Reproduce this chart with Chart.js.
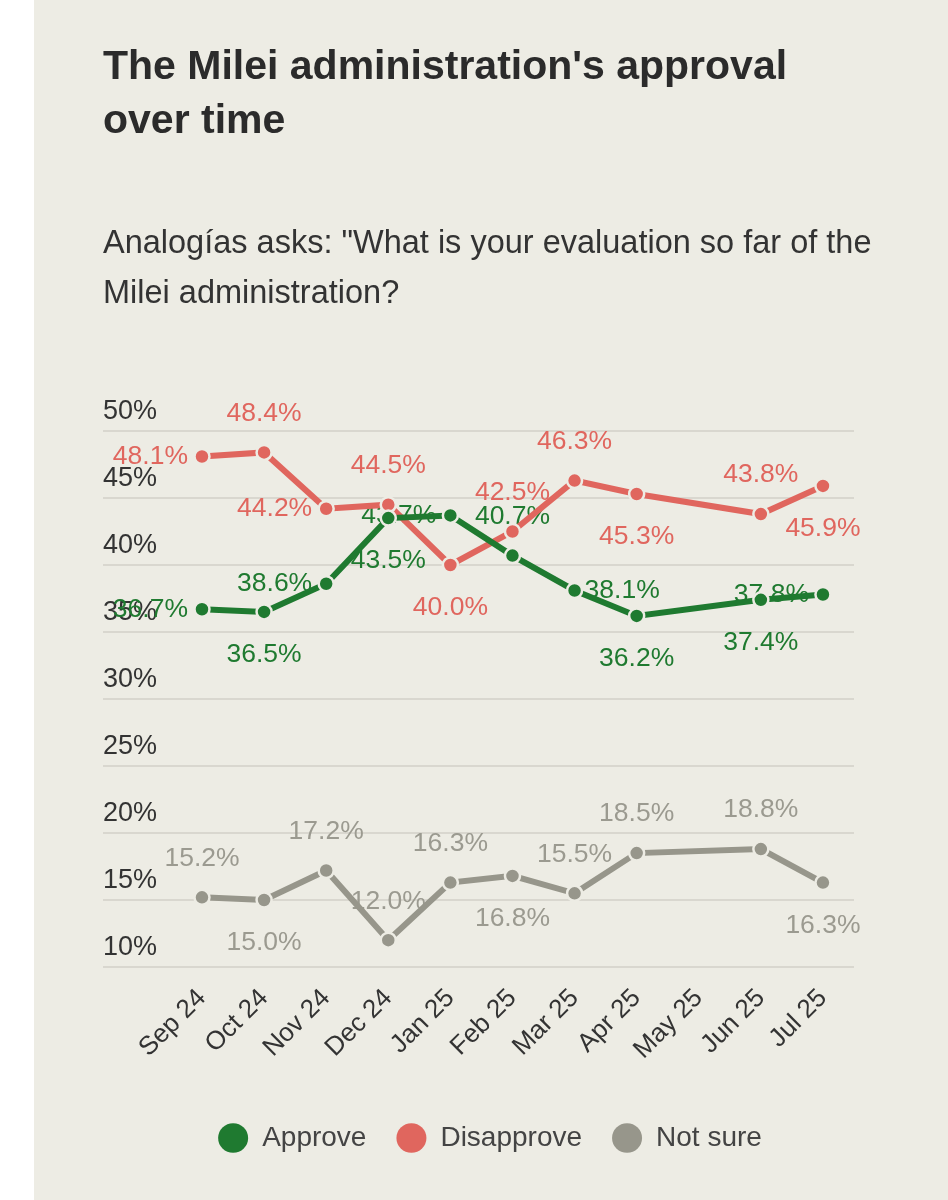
<!DOCTYPE html>
<html>
<head>
<meta charset="utf-8">
<script src="https://cdn.jsdelivr.net/npm/chart.js@4.4.1/dist/chart.umd.min.js"></script>
<style>
html,body{margin:0;padding:0;background:#ffffff;}
#wrap{position:absolute;left:34px;top:0;width:914px;height:1200px;background:#edece4;}
canvas{display:block;}
</style>
</head>
<body>
<div id="wrap"><canvas id="c" width="914" height="1200" style="width:914px;height:1200px"></canvas></div>
<script>
// ---- data ----
const months = ['Sep 24','Oct 24','Nov 24','Dec 24','Jan 25','Feb 25','Mar 25','Apr 25','May 25','Jun 25','Jul 25'];
const approve    = [36.7, 36.5, 38.6, 43.5, 43.7, 40.7, 38.1, 36.2, null, 37.4, 37.8];
const disapprove = [48.1, 48.4, 44.2, 44.5, 40.0, 42.5, 46.3, 45.3, null, 43.8, 45.9];
const notSure    = [15.2, 15.0, 17.2, 12.0, 16.3, 16.8, 15.5, 18.5, null, 18.8, 16.3];
const yTickValues = [10, 15, 20, 25, 30, 35, 40, 45, 50];
const seriesNames = ['Approve', 'Disapprove', 'Not sure'];

// ---- styles ----
const BG = '#edece4';
const GREEN = '#1f7a30';
const RED = '#e0665e';
const GREY = '#97968b';
const FONT = "'Liberation Sans', Arial, sans-serif";
const FONT_NARROW = "'Liberation Sans Narrow', 'Liberation Sans', Arial, sans-serif";
// label placement per point (style, not data)
const approvePos    = ['left','below','left','below','left','above','right','below',null,'below','left'];
const disapprovePos = ['left','above','left','above','below','above','above','below',null,'above','below'];
const notSurePos    = ['above','below','above','above','above','below','above','above',null,'above','below'];

const toPoints = arr => arr.map((v, i) => ({x: i, y: v}));

const pointLabels = {
  id: 'pointLabels',
  beforeDatasetsDraw(chart) {
    const ctx = chart.ctx;
    ctx.save();
    ctx.font = '26.5px ' + FONT;
    chart.data.datasets.forEach((ds, di) => {
      const meta = chart.getDatasetMeta(di);
      meta.data.forEach((pt, i) => {
        const v = ds.data[i].y;
        const p = ds.labelPos[i];
        if (v === null || v === undefined || !p) return;
        const txt = v.toFixed(1) + '%';
        let x = pt.x, y = pt.y;
        ctx.textBaseline = 'middle';
        if (p === 'above') { ctx.textAlign = 'center'; y -= 39; }
        else if (p === 'below') { ctx.textAlign = 'center'; y += 43; }
        else if (p === 'left') { ctx.textAlign = 'right'; x -= 14; }
        else if (p === 'right') { ctx.textAlign = 'left'; x += 10; }
        ctx.fillStyle = ds.labelColor;
        ctx.fillText(txt, x, y);
      });
    });
    ctx.restore();
  }
};

function makeDataset(label, values, color, labelColor, pos) {
  return {
    label: label,
    data: toPoints(values),
    borderColor: color,
    backgroundColor: color,
    borderWidth: 6,
    pointRadius: 7.5,
    pointHoverRadius: 7.5,
    pointBackgroundColor: color,
    pointBorderColor: BG,
    pointBorderWidth: 2.5,
    spanGaps: true,
    tension: 0,
    labelColor: labelColor,
    labelPos: pos
  };
}

new Chart(document.getElementById('c'), {
  type: 'line',
  data: {
    datasets: [
      makeDataset(seriesNames[0], approve, GREEN, GREEN, approvePos),
      makeDataset(seriesNames[1], disapprove, RED, RED, disapprovePos),
      makeDataset(seriesNames[2], notSure, GREY, '#9b9a90', notSurePos)
    ]
  },
  options: {
    responsive: false,
    animation: false,
    devicePixelRatio: 1,
    layout: { padding: { left: 69, right: 71, top: 0, bottom: 38 } },
    plugins: {
      title: {
        display: true,
        text: ["The Milei administration's approval", 'over time'],
        align: 'start',
        color: '#2b2b2b',
        font: { family: FONT_NARROW, size: 41, weight: 'bold', lineHeight: 54/41 },
        padding: { top: 41, bottom: 70 }
      },
      subtitle: {
        display: true,
        text: ['Analogías asks: "What is your evaluation so far of the', 'Milei administration?'],
        align: 'start',
        color: '#333333',
        font: { family: FONT, size: 32.5, weight: 'normal', lineHeight: 50/32.5 },
        padding: { top: 0, bottom: 112 }
      },
      legend: {
        position: 'bottom',
        align: 'center',
        labels: {
          usePointStyle: true,
          pointStyleWidth: 30,
          boxHeight: 21,
          padding: 30,
          color: '#444444',
          font: { family: FONT, size: 28 },
          generateLabels: chart => chart.data.datasets.map((ds, i) => ({
            text: ds.label, fillStyle: ds.borderColor, strokeStyle: ds.borderColor,
            lineWidth: 0, pointStyle: 'circle', hidden: false, datasetIndex: i, fontColor: '#444444'
          }))
        }
      },
      tooltip: { enabled: false }
    },
    scales: {
      x: {
        type: 'linear',
        min: -1.594,
        max: 10.5,
        grid: { display: false },
        border: { display: false },
        afterBuildTicks: axis => { axis.ticks = months.map((m, i) => ({ value: i })); },
        afterFit: axis => { axis.height = 127; },
        ticks: {
          autoSkip: false,
          minRotation: 45,
          maxRotation: 45,
          padding: 8,
          color: '#333333',
          font: { family: FONT, size: 26 },
          callback: v => months[v] !== undefined ? months[v] : ''
        }
      },
      y: {
        type: 'linear',
        position: 'left',
        min: 10,
        max: 50,
        afterBuildTicks: axis => { axis.ticks = yTickValues.map(v => ({ value: v })); },
        grid: { color: '#d9d7cf', lineWidth: 2, drawTicks: false },
        border: { display: false },
        ticks: {
          mirror: true,
          padding: 0,
          labelOffset: -19,
          color: '#333333',
          font: { family: FONT, size: 27 },
          callback: v => v + '%'
        }
      },
      yRight: {
        type: 'linear',
        position: 'right',
        display: true,
        grid: { display: false },
        border: { display: false },
        ticks: { display: false },
        afterFit: axis => { axis.width = 23; }
      }
    }
  },
  plugins: [pointLabels]
});
</script>
</body>
</html>
